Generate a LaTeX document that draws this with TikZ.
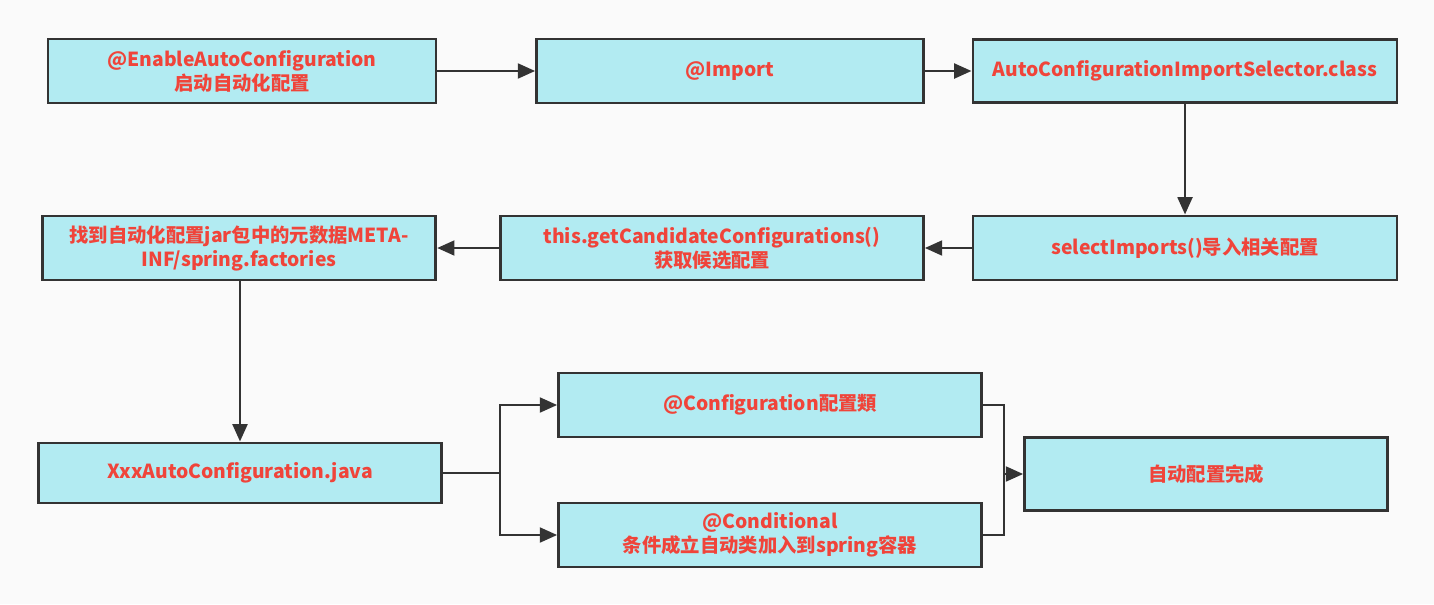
\documentclass[tikz,border=0pt]{standalone}
\usepackage{fontspec}
\setmainfont{Noto Sans CJK SC}
\usepackage{tikz}
\usetikzlibrary{arrows.meta,positioning}

\definecolor{boxfill}{RGB}{178,235,242}
\definecolor{boxline}{RGB}{51,51,51}
\definecolor{boxtext}{RGB}{240,68,58}
\definecolor{paper}{RGB}{250,250,250}

\begin{document}
\begin{tikzpicture}[x=0.75pt,y=-0.75pt,
    stepbox/.style={draw=boxline,fill=boxfill,line width=2.2pt,
        text=boxtext,font=\fontsize{14.5}{18}\selectfont\bfseries,
        align=center,inner sep=0pt,minimum height=#1},
    stepbox/.default=48pt,
    flow/.style={draw=boxline,line width=2.2pt,
        -{Triangle[length=13pt,width=11pt]}}]
    \fill[paper] (0,0) rectangle (1434,604);
    \useasboundingbox (0,0) rectangle (1434,604);
    % first row
    \node [stepbox,minimum width=291pt] (enable) at (242,71)
        {@EnableAutoConfiguration\\启动自动化配置};
    \node [stepbox,minimum width=290pt] (import) at (730,71) {@Import};
    \node [stepbox=47pt,minimum width=318pt] (selector) at (1185,71)
        {AutoConfigurationImportSelector.class};
    % second row
    \node [stepbox,minimum width=318pt] (select) at (1185,248)
        {selectImports()导入相关配置};
    \node [stepbox,minimum width=317pt] (candidate) at (712,248)
        {this.getCandidateConfigurations()\\获取候选配置};
    \node [stepbox,minimum width=295pt] (factories) at (239,248)
        {找到自动化配置jar包中的元数据META-\\INF/spring.factories};
    % third row
    \node [stepbox=45pt,minimum width=302pt] (xxx) at (240,473)
        {XxxAutoConfiguration.java};
    \node [stepbox,minimum width=317pt] (config) at (770,405)
        {@Configuration配置類};
    \node [stepbox,minimum width=317pt] (cond) at (770,535)
        {@Conditional\\条件成立自动类加入到spring容器};
    \node [stepbox=55pt,minimum width=272pt] (done) at (1206,474)
        {自动配置完成};
    \coordinate (split) at (500,473);
    \coordinate (merge) at (1004,474);
    % connectors
    \draw [flow] (enable) -- (import);
    \draw [flow] (import) -- (selector);
    \draw [flow] (selector) -- (select);
    \draw [flow] (select) -- (candidate);
    \draw [flow] (candidate) -- (factories);
    \draw [flow] (factories.south -| xxx.north) -- (xxx);
    \draw [draw=boxline,line width=2.2pt] (xxx) -- (split);
    \draw [flow] (split) |- (config.west);
    \draw [flow] (split) |- (cond.west);
    \draw [draw=boxline,line width=2.2pt] (config.east) -| (merge);
    \draw [draw=boxline,line width=2.2pt] (cond.east) -| (merge);
    \draw [flow] (merge) -- (done);
\end{tikzpicture}
\end{document}
